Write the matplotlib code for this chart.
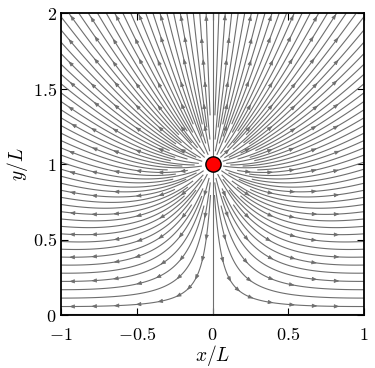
import numpy as np
import matplotlib.pyplot as plt

plt.rcParams['mathtext.fontset'] = 'cm'
plt.rcParams['font.family'] = 'serif'
plt.rcParams['font.serif'] = ['DejaVu Serif']

# source above a wall (y=0), image source below it
src = (0.0, 1.0)
img = (0.0, -1.0)
nlines = 56          # streamlines per half of the domain
xticks = [-1, -0.5, 0, 0.5, 1]
yticks = [0, 0.5, 1, 1.5, 2]
xlabels = ['$-1$', '$-0.5$', '$0$', '$0.5$', '$1$']
ylabels = ['$0$', '$0.5$', '$1$', '$1.5$', '$2$']
lc = '#6e6e6e'

def psi(X, Y):
    return (np.arctan2(Y-src[1], np.abs(X-src[0])) +
            np.arctan2(Y-img[1], np.abs(X-img[0])))

def vel(X, Y):
    r1 = (X-src[0])**2 + (Y-src[1])**2
    r2 = (X-img[0])**2 + (Y-img[1])**2
    return (X-src[0])/r1 + (X-img[0])/r2, (Y-src[1])/r1 + (Y-img[1])/r2

fig = plt.figure(figsize=(3.75, 3.68), dpi=100)
ax = fig.add_axes([61/375, 1-315/368, 303/375, 302/368])

# where each line stops near the source (bit-reversed order so the
# remaining lines stay evenly spread)
def stop_radius(k):
    b = int('{:03b}'.format(k % 8)[::-1], 2)
    return 0.045 + 0.035*b + 0.03*((k*0.618) % 1)

yy = np.linspace(0, 2, 600)
segs = []
for side in (-1, 1):
    xx = side*np.linspace(1e-5, 1, 400)
    X, Y = np.meshgrid(xx, yy)
    P = psi(X, Y)
    R = np.hypot(X-src[0], Y-src[1])
    for k in range(1, nlines):
        Pm = np.where(R < stop_radius(k), np.nan, P)
        cs = ax.contour(X, Y, Pm, levels=[np.pi*k/nlines], colors=lc,
                        linewidths=0.8)
        for s in cs.allsegs:
            segs += [p for p in s if len(p)]
ax.plot([src[0], src[0]], [0, 2], color=lc, lw=0.8)
ax.plot([-1, 1], [0.004, 0.004], color=lc, lw=0.8)

# arrowheads on a regular grid, snapped onto the nearest streamline
pts = np.vstack(segs)
for gy in np.arange(0.073, 2.0, 0.146):
    for gx in np.arange(-0.93, 0.95, 0.146):
        if np.hypot(gx-src[0], gy-src[1]) < 0.12:
            continue
        k = np.argmin((pts[:, 0]-gx)**2 + (pts[:, 1]-gy)**2)
        px, py = pts[k]
        u, v = vel(px, py)
        n = np.hypot(u, v)
        d = 0.015
        ax.annotate('', xy=(px+d*u/n, py+d*v/n), xytext=(px, py),
                    arrowprops=dict(arrowstyle='-|>,head_length=0.3,head_width=0.12',
                                    color=lc, lw=0.5, shrinkA=0, shrinkB=0))

ax.plot(src[0], src[1], 'o', ms=11, mfc='red', mec='black', mew=1, zorder=5)
ax.set_xlim(-1, 1)
ax.set_ylim(0, 2)
ax.set_xticks(xticks)
ax.set_xticklabels(xlabels, fontsize=13)
ax.set_yticks(yticks)
ax.set_yticklabels(ylabels, fontsize=13)
ax.tick_params(direction='in', top=True, right=True, length=5, pad=3)
ax.tick_params(axis='x', pad=8)
for s in ax.spines.values():
    s.set_linewidth(1.3)
ax.set_xlabel('$x/L$', fontsize=14, labelpad=-1)
ax.set_ylabel('$y/L$', fontsize=14, labelpad=2)
fig.savefig('out.png', dpi=100)
